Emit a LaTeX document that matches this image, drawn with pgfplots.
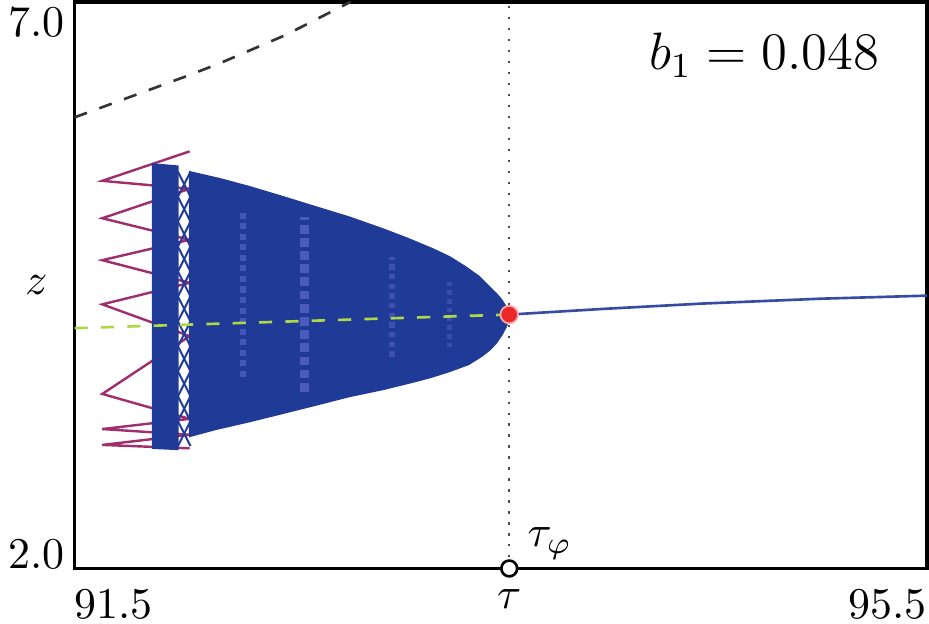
\documentclass[border=0pt]{standalone}
\usepackage{pgfplots}
\pgfplotsset{compat=1.18}
\definecolor{myblue}{RGB}{32,58,152}
\definecolor{lineblue}{RGB}{55,75,165}
\definecolor{mymag}{RGB}{160,45,110}
\definecolor{mygreen}{RGB}{175,215,70}
\definecolor{myred}{RGB}{235,40,40}
\begin{document}
\begin{tikzpicture}
\begin{axis}[
  scale only axis,
  width=194pt, height=129pt,
  xmin=91.5, xmax=95.5, ymin=2, ymax=7,
  axis line style={line width=0.8pt},
  major tick length=0pt,
  clip=false,
  xtick={91.5,93.54,95.5},
  xticklabels={\makebox[0pt][l]{91.5},$\tau$,\makebox[0pt][r]{95.5}},
  xticklabel style={anchor=north, inner xsep=0pt, inner ysep=1pt, yshift=-3.5pt},
  ytick={2}, yticklabels={2.0},
  yticklabel style={anchor=base east, inner xsep=2pt},
  extra y ticks={7}, extra y tick labels={7.0},
  extra y tick style={yticklabel style={anchor=north east, inner ysep=0pt, yshift=-1pt}},
  ylabel={$z$},
  ylabel style={rotate=-90, at={(axis description cs:-0.045,0.5)}, anchor=center},
]
% magenta zigzag (left)
\addplot[mymag, line width=0.55pt] coordinates {
 (92.04,5.68) (91.63,5.42) (92.04,5.35) (91.63,5.09) (92.04,4.90) (91.63,4.72)
 (92.04,4.52) (91.63,4.33) (92.04,4.05) (91.63,3.54) (92.04,3.32) (91.63,3.23)
 (92.04,3.18) (91.63,3.09) (92.04,3.06)};
% dense blue column
\addplot[fill=myblue, draw=myblue, line width=0.3pt] coordinates {
 (91.866,3.06) (91.985,3.05) (91.985,5.55) (91.866,5.57)} -- cycle;
% crossing blue lines
\addplot[myblue, line width=0.45pt] coordinates {
 (91.985,3.08)(92.044,3.30)(91.985,3.52)(92.044,3.74)(91.985,3.96)(92.044,4.18)
 (91.985,4.40)(92.044,4.62)(91.985,4.84)(92.044,5.06)(91.985,5.28)(92.044,5.50)};
\addplot[myblue, line width=0.45pt] coordinates {
 (92.044,3.08)(91.985,3.30)(92.044,3.52)(91.985,3.74)(92.044,3.96)(91.985,4.18)
 (92.044,4.40)(91.985,4.62)(92.044,4.84)(91.985,5.06)(92.044,5.28)(91.985,5.50)};
% main chaotic region
\addplot[fill=myblue, draw=myblue, line width=0.3pt] coordinates {
 (92.039,5.501) (92.18,5.440) (92.321,5.369) (92.47,5.285) (92.630,5.192)
 (92.79,5.100) (92.944,4.998) (93.06,4.915) (93.179,4.822) (93.26,4.750)
 (93.334,4.663) (93.40,4.575) (93.446,4.487) (93.48,4.425) (93.505,4.370)
 (93.525,4.310) (93.537,4.270) (93.542,4.240) (93.537,4.190) (93.525,4.130)
 (93.507,4.065) (93.48,3.990) (93.45,3.930) (93.413,3.875) (93.35,3.800)
 (93.258,3.737) (93.18,3.690) (93.099,3.649) (92.95,3.580) (92.790,3.517)
 (92.63,3.440) (92.475,3.367) (92.32,3.295) (92.161,3.226) (92.039,3.164)} -- cycle;
% lighter streaks
\addplot[blue!40!white, densely dotted, line width=1.4pt, opacity=0.3] coordinates {(92.29,3.69) (92.29,5.15)};
\addplot[blue!40!white, densely dotted, line width=2.0pt, opacity=0.35] coordinates {(92.58,3.56) (92.58,5.10)};
\addplot[blue!40!white, densely dotted, line width=1.2pt, opacity=0.25] coordinates {(92.99,3.87) (92.99,4.75)};
\addplot[blue!40!white, densely dotted, line width=1.0pt, opacity=0.2] coordinates {(93.26,3.95) (93.26,4.55)};
% green dashed line
\addplot[mygreen, dashed, line width=0.6pt] coordinates {(91.5,4.12) (93.54,4.24)};
% stable branch to the right
\addplot[lineblue, line width=0.6pt] coordinates {
 (93.54,4.24) (93.98,4.29) (94.445,4.337) (95.0,4.38) (95.5,4.407)};
% vertical dotted line at tau_phi
\addplot[black!70, dotted, line width=0.5pt] coordinates {(93.54,2) (93.54,7)};
% black dashed curve
\addplot[black!80, dashed, line width=0.6pt] coordinates {
 (91.5,5.98) (92.02,6.34) (92.18,6.456) (92.49,6.706) (92.796,7.0)};
% red point
\addplot[only marks, mark=*, mark size=2pt, mark options={fill=myred, draw=myred!40}] coordinates {(93.54,4.24)};
% open circle on the axis
\addplot[only marks, mark=*, mark size=1.8pt, mark options={fill=white, draw=black, line width=0.6pt}] coordinates {(93.54,2)};
\node[anchor=base east, inner sep=0] at (axis cs:95.28,6.40) {\large $b_1 = 0.048$};
\node[anchor=base west, inner sep=0, xshift=4pt, yshift=5pt] at (axis cs:93.54,2) {$\tau_\varphi$};
\end{axis}
\end{tikzpicture}
\end{document}
